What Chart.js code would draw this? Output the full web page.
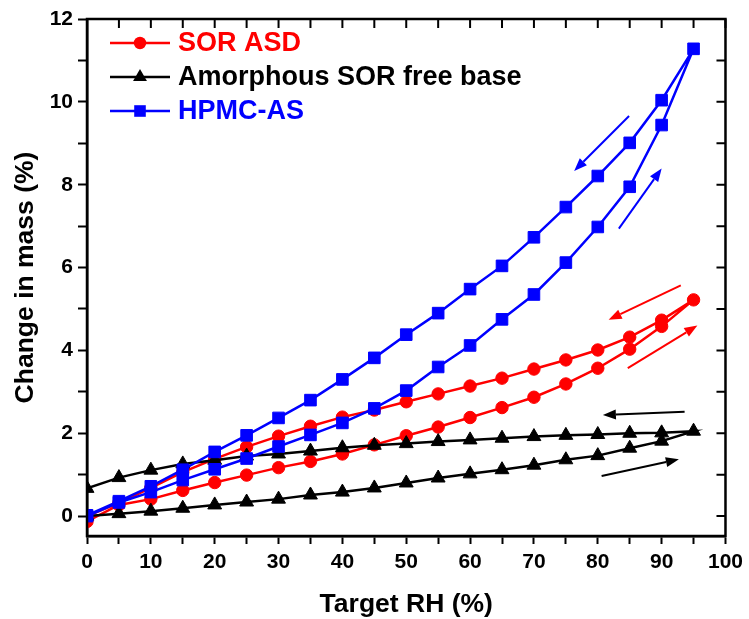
<!DOCTYPE html>
<html>
<head>
<meta charset="utf-8">
<title>Water sorption</title>
<script src="https://cdn.jsdelivr.net/npm/chart.js@4.4.1/dist/chart.umd.min.js"></script>
<style>
    html, body { margin: 0; padding: 0; background: #fff; }
</style>
</head>
<body>
<canvas id="sorptionChart" width="749" height="619"></canvas>
<script>
// Target RH steps (sorption goes up, desorption comes back down)
const rhUp = [0, 5, 10, 15, 20, 25, 30, 35, 40, 45, 50, 55, 60, 65, 70, 75, 80, 85, 90, 95];
const rhDown = [90, 85, 80, 75, 70, 65, 60, 55, 50, 45, 40, 35, 30, 25, 20, 15, 10, 5, 0];

// SOR ASD
const asdUp = [-0.13, 0.27, 0.41, 0.62, 0.81, 0.99, 1.17, 1.32, 1.50, 1.72, 1.94, 2.15, 2.38, 2.62, 2.87, 3.19, 3.57, 4.03, 4.58, 5.22];
const asdDown = [4.73, 4.32, 4.01, 3.77, 3.55, 3.33, 3.14, 2.95, 2.76, 2.56, 2.39, 2.17, 1.93, 1.67, 1.38, 1.06, 0.68, 0.32, 0.0];

// Amorphous SOR free base
const freeUp = [0.0, 0.06, 0.12, 0.19, 0.27, 0.34, 0.41, 0.51, 0.58, 0.68, 0.80, 0.92, 1.02, 1.12, 1.23, 1.36, 1.46, 1.64, 1.81, 2.05];
const freeDown = [2.01, 2.0, 1.97, 1.95, 1.92, 1.88, 1.84, 1.80, 1.75, 1.71, 1.65, 1.57, 1.50, 1.45, 1.35, 1.26, 1.11, 0.93, 0.67];

// HPMC-AS
const hpmcUp = [0.0, 0.33, 0.58, 0.87, 1.13, 1.39, 1.68, 1.96, 2.25, 2.60, 3.03, 3.60, 4.12, 4.75, 5.35, 6.12, 6.98, 7.95, 9.44, 11.28];
const hpmcDown = [10.04, 9.01, 8.21, 7.46, 6.73, 6.04, 5.48, 4.90, 4.38, 3.82, 3.30, 2.80, 2.37, 1.95, 1.55, 1.12, 0.72, 0.36, 0.02];

const xTicks = [0, 5, 10, 15, 20, 25, 30, 35, 40, 45, 50, 55, 60, 65, 70, 75, 80, 85, 90, 95, 100];
const yTicks = [0, 1, 2, 3, 4, 5, 6, 7, 8, 9, 10, 11, 12];

// direction arrows, in data units: [fromX, fromY, toX, toY]
const arrows = [
    { color: '#0000ff', at: [84.9, 9.66, 76.3, 8.33] },
    { color: '#0000ff', at: [83.3, 6.94, 90.0, 8.39] },
    { color: '#ff0000', at: [93.0, 5.57, 81.7, 4.74] },
    { color: '#ff0000', at: [84.7, 3.57, 95.6, 4.60] },
    { color: '#000000', at: [93.6, 2.52, 80.8, 2.44] },
    { color: '#000000', at: [80.6, 0.97, 92.7, 1.37] },
];

const FONT = "'Liberation Sans', Arial, sans-serif";

function loop(up, down) {
    const pts = rhUp.map((x, i) => ({ x: x, y: up[i] }));
    return pts.concat(rhDown.map((x, i) => ({ x: x, y: down[i] })));
}

function series(label, color, style, radius, data, order) {
    return {
        label: label,
        data: data,
        borderColor: color,
        backgroundColor: color,
        pointBackgroundColor: color,
        pointBorderColor: color,
        pointStyle: style,
        pointRadius: radius,
        pointHoverRadius: radius,
        pointBorderWidth: 1,
        borderWidth: 2.5,
        showLine: true,
        tension: 0,
        order: order,
    };
}

// frame + inward ticks on top and right
const framePlugin = {
    id: 'frame',
    afterDraw(chart) {
        const ctx = chart.ctx;
        const a = chart.chartArea;
        const xs = chart.scales.x;
        const ys = chart.scales.y;
        ctx.save();
        ctx.strokeStyle = '#000';
        ctx.lineWidth = 2.5;
        ctx.strokeRect(a.left, a.top, a.right - a.left, a.bottom - a.top);
        ctx.lineWidth = 2;
        ctx.beginPath();
        xTicks.forEach(v => {
            const px = xs.getPixelForValue(v);
            ctx.moveTo(px, a.top);
            ctx.lineTo(px, a.top + 9);
        });
        yTicks.forEach(v => {
            const py = ys.getPixelForValue(v);
            ctx.moveTo(a.right, py);
            ctx.lineTo(a.right - 9, py);
        });
        ctx.stroke();
        ctx.restore();
    }
};

const arrowPlugin = {
    id: 'arrows',
    afterDatasetsDraw(chart) {
        const ctx = chart.ctx;
        const xs = chart.scales.x;
        const ys = chart.scales.y;
        ctx.save();
        arrows.forEach(ar => {
            const x1 = xs.getPixelForValue(ar.at[0]);
            const y1 = ys.getPixelForValue(ar.at[1]);
            const x2 = xs.getPixelForValue(ar.at[2]);
            const y2 = ys.getPixelForValue(ar.at[3]);
            const ang = Math.atan2(y2 - y1, x2 - x1);
            const head = 13, half = 5;
            const bx = x2 - head * Math.cos(ang);
            const by = y2 - head * Math.sin(ang);
            ctx.strokeStyle = ar.color;
            ctx.fillStyle = ar.color;
            ctx.lineWidth = 2;
            ctx.beginPath();
            ctx.moveTo(x1, y1);
            ctx.lineTo(bx, by);
            ctx.stroke();
            ctx.beginPath();
            ctx.moveTo(x2, y2);
            ctx.lineTo(bx + half * Math.sin(ang), by - half * Math.cos(ang));
            ctx.lineTo(bx - half * Math.sin(ang), by + half * Math.cos(ang));
            ctx.closePath();
            ctx.fill();
        });
        ctx.restore();
    }
};

function drawMarker(ctx, style, x, y, r) {
    ctx.beginPath();
    if (style === 'circle') {
        ctx.arc(x, y, r, 0, Math.PI * 2);
    } else if (style === 'triangle') {
        ctx.moveTo(x, y - r);
        ctx.lineTo(x + r * Math.sin(Math.PI / 3), y + r / 2);
        ctx.lineTo(x - r * Math.sin(Math.PI / 3), y + r / 2);
        ctx.closePath();
    } else {
        const s = r * Math.SQRT1_2;
        ctx.rect(x - s, y - s, 2 * s, 2 * s);
    }
    ctx.fill();
}

const legendPlugin = {
    id: 'innerLegend',
    afterDraw(chart) {
        const ctx = chart.ctx;
        const a = chart.chartArea;
        ctx.save();
        chart.data.datasets.forEach((ds, row) => {
            const y = a.top + 24 + row * 34;
            const x0 = a.left + 23;
            ctx.strokeStyle = ds.borderColor;
            ctx.fillStyle = ds.borderColor;
            ctx.lineWidth = 2.5;
            ctx.beginPath();
            ctx.moveTo(x0, y);
            ctx.lineTo(x0 + 60, y);
            ctx.stroke();
            drawMarker(ctx, ds.pointStyle, x0 + 30, y, ds.pointRadius);
            ctx.font = 'bold 27px ' + FONT;
            ctx.textBaseline = 'middle';
            ctx.textAlign = 'left';
            ctx.fillText(ds.label, x0 + 68, y + 1);
        });
        ctx.restore();
    }
};

const tickFont = { family: FONT, size: 21, weight: 'bold' };
const titleFont = { family: FONT, size: 26.5, weight: 'bold', lineHeight: 1 };

const ctx = document.getElementById('sorptionChart').getContext('2d');
new Chart(ctx, {
    type: 'scatter',
    data: {
        datasets: [
            series('SOR ASD', '#ff0000', 'circle', 6.2, loop(asdUp, asdDown), 3),
            series('Amorphous SOR free base', '#000000', 'triangle', 8, loop(freeUp, freeDown), 2),
            series('HPMC-AS', '#0000ff', 'rect', 8.2, loop(hpmcUp, hpmcDown), 1),
        ]
    },
    options: {
        responsive: false,
        animation: false,
        layout: { padding: { top: 19, right: 19, left: 0, bottom: 0 } },
        plugins: {
            legend: { display: false },
            tooltip: { enabled: false },
        },
        scales: {
            x: {
                type: 'linear',
                min: 0,
                max: 100,
                afterBuildTicks: s => { s.ticks = xTicks.map(v => ({ value: v })); },
                afterFit: s => { s.height = 83; },
                ticks: {
                    font: tickFont,
                    color: '#000',
                    padding: 6,
                    maxRotation: 0,
                    autoSkip: false,
                    callback: v => (v % 10 === 0 ? v : ''),
                },
                grid: { drawOnChartArea: false, tickLength: 8, tickWidth: 2, tickColor: '#000' },
                border: { color: '#000', width: 2.5 },
                title: { display: true, text: 'Target RH (%)', font: titleFont, color: '#000', padding: { top: 0, bottom: 1 } },
            },
            y: {
                type: 'linear',
                min: -0.48,
                max: 12,
                afterBuildTicks: s => { s.ticks = yTicks.map(v => ({ value: v })); },
                afterFit: s => { s.width = 87; },
                ticks: {
                    font: tickFont,
                    color: '#000',
                    padding: 5,
                    autoSkip: false,
                    callback: v => (v % 2 === 0 ? v : ''),
                },
                grid: { drawOnChartArea: false, tickLength: 9, tickWidth: 2, tickColor: '#000' },
                border: { color: '#000', width: 2.5 },
                title: { display: true, text: 'Change in mass (%)', font: titleFont, color: '#000', padding: { top: 12, bottom: 0 } },
            }
        }
    },
    plugins: [framePlugin, arrowPlugin, legendPlugin]
});
</script>
</body>
</html>
